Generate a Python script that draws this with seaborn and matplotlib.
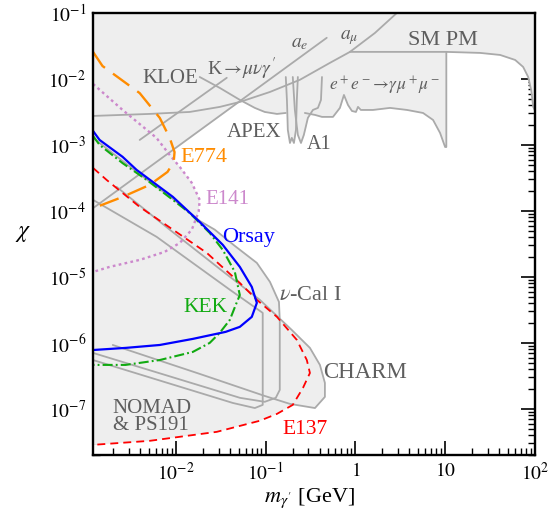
import matplotlib
matplotlib.use("Agg")
import matplotlib.pyplot as plt
import matplotlib.ticker as mticker
import numpy as np
import seaborn as sns

# ---- upper limits (mass in GeV, kinetic mixing chi) ----
ae_m = [1.2e-3, 0.48]
ae_chi = [1.1e-4, 4.2e-2]

amu_m = [1.2e-3, 5.1e-3, 1.43e-2, 3.1e-2, 5.2e-2, 0.112, 0.241, 0.52, 0.87, 1.65, 2.9]
amu_chi = [2.75e-3, 2.95e-3, 3.16e-3, 3.77e-3, 4.49e-3, 6.35e-3, 9.7e-3, 1.75e-2, 2.57e-2, 4.97e-2, 0.1]

kmunu_m = [3.97e-3, 3.7e-2]
kmunu_chi = [1.19e-3, 1.04e-2]

kloe_m = [1.85e-2, 3.1e-2, 5.2e-2, 7.6e-2, 9.8e-2, 0.134, 0.168]
kloe_chi = [1.07e-2, 7.3e-3, 4.8e-3, 3.64e-3, 3.16e-3, 2.95e-3, 3.05e-3]

apex_m = [0.168, 0.173, 0.177, 0.187, 0.196, 0.207, 0.218, 0.223, 0.229]
apex_chi = [1.07e-2, 4.8e-3, 1.69e-3, 1.07e-3, 1.28e-3, 1.07e-3, 1.69e-3, 4.8e-3, 1.07e-2]

a1_m = [0.201, 0.212, 0.229, 0.248, 0.267, 0.296, 0.337, 0.383, 0.414, 0.425]
a1_chi = [1.07e-2, 3.39e-3, 1.42e-3, 1.07e-3, 1.42e-3, 2.57e-3, 3.39e-3, 3.64e-3, 4.8e-3, 1.07e-2]

babar_m = [0.274, 0.355, 0.425, 0.563, 0.673, 0.746, 0.827, 0.916, 1.015, 1.07, 1.15,
           1.57, 2.43, 3.76, 5.67, 7.33, 8.77, 9.98, 10.3, 10.3]
babar_chi = [3.05e-3, 2.85e-3, 2.66e-3, 2.66e-3, 3.64e-3, 5.72e-3, 4.04e-3, 3.27e-3, 3.16e-3, 3.77e-3, 3.39e-3,
             3.39e-3, 3.64e-3, 3.39e-3, 3.05e-3, 2.39e-3, 1.52e-3, 9.3e-4, 9.3e-4, 2.57e-2]

smpm_m = [0.87, 3.14, 10.3, 24.5, 40.9, 60.1, 73.8, 84.0, 90.7, 95.5, 100.0]
smpm_chi = [2.57e-2, 2.57e-2, 2.57e-2, 2.48e-2, 2.31e-2, 1.94e-2, 1.52e-2, 1.07e-2, 6.8e-3, 3.77e-3, 3.3e-3]

# ---- beam dump regions (closed contours) ----
e774_m = [1.2e-3, 1.53e-3, 3.97e-3, 6.64e-3, 8.57e-3, 9.7e-3, 9.5e-3, 8.1e-3, 5.13e-3, 2.56e-3, 1.32e-3, 1.2e-3]
e774_chi = [2.57e-2, 1.57e-2, 6.1e-3, 2.57e-3, 1.28e-3, 7.8e-4, 5.5e-4, 3.9e-4, 2.48e-4, 1.63e-4, 1.15e-4, 1.05e-4]

e141_m = [1.2e-3, 2.56e-3, 6.1e-3, 8.57e-3, 1.11e-2, 1.51e-2, 1.85e-2, 1.80e-2, 1.51e-2, 1.11e-2,
          7.5e-3, 3.97e-3, 1.84e-3, 1.2e-3]
e141_chi = [8.4e-3, 3.39e-3, 1.28e-3, 7.05e-4, 4.64e-4, 2.66e-4, 1.47e-4, 9.7e-5, 5.2e-5, 3.27e-5,
            2.39e-5, 1.81e-5, 1.42e-5, 1.19e-5]

orsay_m = [1.2e-3, 1.42e-3, 2.56e-3, 3.67e-3, 9.3e-3, 1.85e-2, 3.34e-2, 5.17e-2, 7.03e-2, 8.0e-2,
           7.03e-2, 5.17e-2, 3.6e-2, 1.55e-2, 6.64e-3, 2.77e-3, 1.2e-3]
orsay_chi = [1.63e-3, 1.19e-3, 6.6e-4, 4.18e-4, 1.63e-4, 6.8e-5, 3.06e-5, 1.42e-5, 7.05e-6, 4.04e-6,
             2.48e-6, 1.75e-6, 1.47e-6, 1.15e-6, 9.3e-7, 8.4e-7, 7.8e-7]

kek_m = [1.2e-3, 1.42e-3, 2.56e-3, 4.75e-3, 9.3e-3, 1.43e-2, 2.39e-2, 3.34e-2, 4.55e-2, 5.17e-2,
         4.66e-2, 4.0e-2, 3.09e-2, 2.39e-2, 1.55e-2, 6.64e-3, 2.77e-3, 1.2e-3]
kek_chi = [1.37e-3, 1.0e-3, 5.3e-4, 2.95e-4, 1.47e-4, 9.3e-5, 4.64e-5, 2.57e-5, 1.19e-5, 5.3e-6,
           3.77e-6, 2.23e-6, 1.42e-6, 1.0e-6, 7.3e-7, 5.5e-7, 4.64e-7, 4.64e-7]

e137_m = [1.2e-3, 1.70e-3, 3.97e-3, 9.3e-3, 2.22e-2, 5.17e-2, 8.0e-2, 0.134, 0.223, 0.288, 0.312,
          0.261, 0.201, 0.134, 8.6e-2, 2.87e-2, 5.13e-3, 1.2e-3]
e137_chi = [4.49e-4, 2.95e-4, 1.15e-4, 5.2e-5, 2.31e-5, 8.1e-6, 4.5e-6, 2.48e-6, 1.11e-6, 5.5e-7, 3.5e-7,
            2.08e-7, 1.15e-7, 8.4e-8, 6.6e-8, 4.49e-8, 3.28e-8, 2.85e-8]

charm_m = [2.2e-3, 8.57e-3, 3.52e-2, 8.63e-2, 0.196, 0.312, 0.403, 0.458, 0.458, 0.355,
           0.187, 9.8e-2, 1.85e-2, 1.99e-3]
charm_chi = [2.31e-4, 5.2e-5, 1.15e-5, 4.5e-6, 1.57e-6, 8.4e-7, 4.64e-7, 2.48e-7, 1.52e-7, 1.03e-7,
             1.19e-7, 1.57e-7, 3.39e-7, 9.3e-7]

nucal_m = [1.2e-3, 3.67e-3, 9.3e-3, 1.85e-2, 2.72e-2, 4.55e-2, 8.0e-2, 0.112, 0.141, 0.144, 0.144,
           0.130, 9.8e-2, 5.2e-2, 1.2e-3]
nucal_chi = [1.28e-3, 3.9e-4, 1.52e-4, 7.05e-5, 5.2e-5, 2.95e-5, 1.63e-5, 8.4e-6, 4.18e-6, 2.23e-6, 1.94e-7,
             1.47e-7, 1.28e-7, 1.47e-7, 7.05e-7]

nomad_m = [1.2e-3, 6.14e-3, 4.0e-2, 9.3e-2, 9.3e-2, 7.6e-2, 4.32e-2, 1.2e-3]
nomad_chi = [1.47e-4, 4.04e-5, 6.4e-6, 2.85e-6, 1.15e-7, 1.03e-7, 1.23e-7, 5.5e-7]

xtick_vals = [1e-2, 1e-1, 1, 10, 100]
xtick_text = [r"$10^{-2}$", r"$10^{-1}$", r"$1$", r"$10$", r"$10^{2}$"]
ytick_vals = [1e-7, 1e-6, 1e-5, 1e-4, 1e-3, 1e-2, 1e-1]
ytick_text = [r"$10^{-7}$", r"$10^{-6}$", r"$10^{-5}$", r"$10^{-4}$", r"$10^{-3}$", r"$10^{-2}$", r"$10^{-1}$"]

FILL = "#eeeeee"
GRAY = "#aaaaaa"
TXT = "#5e5e5e"

sns.set_style("ticks")
plt.rcParams["font.family"] = "serif"
plt.rcParams["font.serif"] = ["Liberation Serif", "DejaVu Serif"]
plt.rcParams["mathtext.fontset"] = "stix"
plt.rcParams["font.size"] = 14
for key in ["text.color", "axes.labelcolor", "xtick.color", "ytick.color", "axes.edgecolor"]:
    plt.rcParams[key] = "black"

fig = plt.figure(figsize=(5.57, 5.18), dpi=100)
ax = fig.add_axes([0.167, 0.1216, 0.7935, 0.8534])
ax.set_xscale("log")
ax.set_yscale("log")


def curve(m, chi, color, lw, dashes=None, z=3):
    sns.lineplot(x=m, y=chi, ax=ax, sort=False, estimator=None, color=color,
                 linewidth=lw, zorder=z, legend=False)
    line = ax.lines[-1]
    if dashes is not None:
        line.set_dashes(dashes)


# excluded from above
for m, c in [(ae_m, ae_chi), (amu_m, amu_chi), (kmunu_m, kmunu_chi), (kloe_m, kloe_chi),
             (apex_m, apex_chi), (a1_m, a1_chi), (babar_m, babar_chi), (smpm_m, smpm_chi)]:
    ax.fill_between(m, c, 1.0, color=FILL, lw=0, zorder=1)
    curve(m, c, GRAY, 1.3, z=2)

# beam dumps
for m, c in [(charm_m, charm_chi), (nucal_m, nucal_chi), (nomad_m, nomad_chi)]:
    ax.fill(m, c, color=FILL, lw=0, zorder=1)
    curve(m, c, GRAY, 1.3, z=2)

for m, c in [(e774_m, e774_chi), (e141_m, e141_chi), (orsay_m, orsay_chi),
             (kek_m, kek_chi), (e137_m, e137_chi)]:
    ax.fill(m, c, color=FILL, lw=0, zorder=1)

curve(e137_m, e137_chi, "#ff0000", 1.3, dashes=(4.4, 2.8), z=3)
curve(e141_m, e141_chi, "#cc88cc", 1.7, dashes=(1.15, 1.4), z=3)
curve(e774_m, e774_chi, "#ff8c00", 1.7, dashes=(8.5, 4.2), z=3)
curve(kek_m, kek_chi, "#11aa11", 1.5, dashes=(4.8, 1.5, 0.9, 1.5), z=4)
curve(orsay_m, orsay_chi, "#0000ff", 1.6, z=5)

# labels
kw = dict(ha="center", va="center", zorder=6)
ax.text(8.6e-3, 1.0e-2, "KLOE", color=TXT, fontsize=15, **kw)
ax.text(5.4e-2, 1.42e-2, r"K$\rightarrow\!\mu\nu\gamma'$", color=TXT, fontsize=14, **kw)
ax.text(0.24, 3.5e-2, r"$a_e$", color=TXT, fontsize=14, **kw)
ax.text(0.85, 4.2e-2, r"$a_\mu$", color=TXT, fontsize=14, **kw)
ax.text(9.5, 3.77e-2, "SM PM", color=TXT, fontsize=16, **kw)
ax.text(2.14, 7.8e-3, r"$e^+e^-\!\rightarrow\!\gamma\mu^+\mu^-$", color=TXT, fontsize=12.5, **kw)
ax.text(7.4e-2, 1.52e-3, "APEX", color=TXT, fontsize=15, **kw)
ax.text(0.393, 1.0e-3, "A1", color=TXT, fontsize=14.5, **kw)
ax.text(2.05e-2, 6.35e-4, "E774", color="#ff8c00", fontsize=16, **kw)
ax.text(3.8e-2, 1.47e-4, "E141", color="#cc88cc", fontsize=15, **kw)
ax.text(6.5e-2, 3.9e-5, "Orsay", color="#0000ff", fontsize=16, **kw)
ax.text(2.16e-2, 3.39e-6, "KEK", color="#11aa11", fontsize=15.5, **kw)
ax.text(0.32, 5.15e-6, r"$\nu$-Cal I", color=TXT, fontsize=16, **kw)
ax.text(1.28, 3.5e-7, "CHARM", color=TXT, fontsize=16.5, **kw)
ax.text(0.274, 4.8e-8, "E137", color="#ff0000", fontsize=15.5, **kw)
ax.text(1.99e-3, 7.6e-8, "NOMAD\n& PS191", color=TXT, ha="left", va="center",
        fontsize=15, linespacing=0.85, zorder=6)

# axes styling
ax.set_xticks(xtick_vals)
ax.set_xticklabels(xtick_text)
ax.set_yticks(ytick_vals)
ax.set_yticklabels(ytick_text)
ax.xaxis.set_minor_locator(mticker.LogLocator(base=10, subs=np.arange(2, 10), numticks=100))
ax.yaxis.set_minor_locator(mticker.LogLocator(base=10, subs=np.arange(2, 10), numticks=100))
ax.xaxis.set_minor_formatter(mticker.NullFormatter())
ax.yaxis.set_minor_formatter(mticker.NullFormatter())
ax.set_xlim(1.2e-3, 100)
ax.set_ylim(2e-8, 0.1)
ax.tick_params(which="both", direction="in", top=True, right=True, labelsize=14, colors="black")
ax.tick_params(which="major", length=10, width=1.2, pad=5)
ax.tick_params(which="minor", length=5, width=1.0)
for s in ax.spines.values():
    s.set_linewidth(1.7)
    s.set_color("black")
    s.set_zorder(10)

ax.set_xlabel(r"$m_{\gamma'}$ [GeV]", fontsize=16, va="center")
ax.set_ylabel(r"$\chi$", fontsize=17, rotation=0, va="center", ha="center")
ax.xaxis.set_label_coords(0.49, -0.097)
ax.yaxis.set_label_coords(-0.158, 0.50)

fig.savefig("out.png", dpi=100)
